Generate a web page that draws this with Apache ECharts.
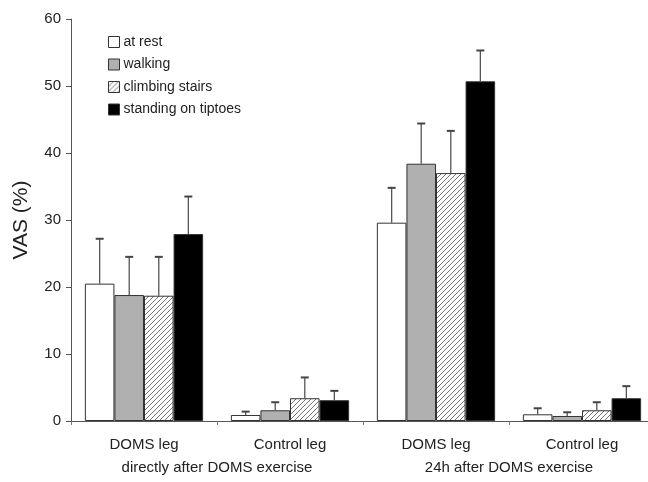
<!DOCTYPE html>
<html>
<head>
<meta charset="utf-8">
<script src="https://cdn.jsdelivr.net/npm/echarts@6/dist/echarts.min.js"></script>
<style>html,body{margin:0;padding:0;background:#fff;}#c{width:648px;height:482px;}</style>
</head>
<body>
<div id="c"></div>
<script>
var categories = ['DOMS leg', 'Control leg', 'DOMS leg', 'Control leg'];
var phases = ['directly after DOMS exercise', '24h after DOMS exercise'];
var seriesNames = ['at rest', 'walking', 'climbing stairs', 'standing on tiptoes'];
var atRest = [20.5, 0.9, 29.6, 1.0];
var atRestErr = [27.2, 1.4, 34.8, 1.9];
var walking = [18.8, 1.6, 38.4, 0.75];
var walkingErr = [24.5, 2.8, 44.4, 1.3];
var climbing = [18.7, 3.4, 37.0, 1.6];
var climbingErr = [24.5, 6.5, 43.3, 2.8];
var tiptoes = [27.9, 3.1, 50.7, 3.4];
var tiptoesErr = [33.5, 4.5, 55.3, 5.2];
var yTicks = [0, 10, 20, 30, 40, 50, 60];

var values = [atRest, walking, climbing, tiptoes];
var errTops = [atRestErr, walkingErr, climbingErr, tiptoesErr];

// hatch pattern
var pc = document.createElement('canvas');
pc.width = 5; pc.height = 5;
var pctx = pc.getContext('2d');
pctx.fillStyle = '#ffffff';
pctx.fillRect(0, 0, 5, 5);
pctx.strokeStyle = '#777777';
pctx.lineWidth = 1;
pctx.beginPath();
pctx.moveTo(-1, 6); pctx.lineTo(6, -1);
pctx.moveTo(-1, 1); pctx.lineTo(1, -1);
pctx.moveTo(4, 6); pctx.lineTo(6, 4);
pctx.stroke();

var fills = ['#ffffff', '#b0b0b0', {image: pc, repeat: 'repeat'}, '#000000'];
var GAP = 0.19;
var font = 'Liberation Sans, Arial, sans-serif';

var series = [];
seriesNames.forEach(function (name, i) {
  series.push({
    name: name,
    type: 'bar',
    data: values[i],
    barGap: 0,
    barCategoryGap: (GAP * 100) + '%',
    itemStyle: {color: fills[i], borderColor: '#333333', borderWidth: 1},
    z: 2
  });
});
seriesNames.forEach(function (name, i) {
  series.push({
    type: 'custom',
    data: values[i].map(function (v, k) { return [k, v, errTops[i][k]]; }),
    z: 3,
    silent: true,
    renderItem: function (params, api) {
      var k = api.value(0);
      var catW = api.size([1, 0])[0];
      var groupW = catW * (1 - GAP);
      var bw = groupW / 4;
      var base = api.coord([k, api.value(1)]);
      var top = api.coord([k, api.value(2)]);
      var x = base[0] - groupW / 2 + bw * (i + 0.5);
      var style = {stroke: '#555555', lineWidth: 1.3};
      return {
        type: 'group',
        children: [
          {type: 'line', shape: {x1: x, y1: base[1], x2: x, y2: top[1]}, style: style},
          {type: 'line', shape: {x1: x - 4, y1: top[1], x2: x + 4, y2: top[1]}, style: {stroke: '#444444', lineWidth: 2}}
        ]
      };
    }
  });
});

var chart = echarts.init(document.getElementById('c'));
chart.setOption({
  animation: false,
  backgroundColor: '#ffffff',
  textStyle: {fontFamily: font},
  legend: {
    data: seriesNames,
    orient: 'vertical',
    left: 103,
    top: 30,
    itemWidth: 11,
    itemHeight: 11,
    itemGap: 8.5,
    icon: 'rect',
    textStyle: {fontSize: 14, color: '#222', fontFamily: font, padding: [0, 0, 0, -1]},
    itemStyle: {borderColor: '#333333', borderWidth: 1}
  },
  grid: {left: 71, top: 19, width: 584, height: 402, containLabel: false, outerBoundsMode: 'none'},
  xAxis: [{
    type: 'category',
    data: categories,
    axisLine: {lineStyle: {color: '#555555', width: 1}},
    axisTick: {show: true, length: 4, lineStyle: {color: '#777777'}},
    axisLabel: {fontSize: 15, color: '#222', fontFamily: font, margin: 16}
  }, {
    type: 'category',
    data: phases,
    position: 'bottom',
    offset: 24,
    axisLine: {show: false},
    axisTick: {show: false},
    axisLabel: {fontSize: 15, color: '#222', fontFamily: font, margin: 15}
  }],
  yAxis: {
    type: 'value',
    min: 0, max: 60, interval: 10,
    name: 'VAS (%)',
    nameLocation: 'middle',
    nameGap: 39,
    nameTextStyle: {fontSize: 21, color: '#222', fontFamily: font},
    axisLine: {show: true, lineStyle: {color: '#555555', width: 1}},
    axisTick: {show: true, length: 5, lineStyle: {color: '#555555'}},
    splitLine: {show: false},
    axisLabel: {fontSize: 15, color: '#222', fontFamily: font, margin: 10,
      formatter: function (v) { return yTicks.indexOf(v) >= 0 ? String(v) : ''; }}
  },
  series: series
});
</script>
</body>
</html>
